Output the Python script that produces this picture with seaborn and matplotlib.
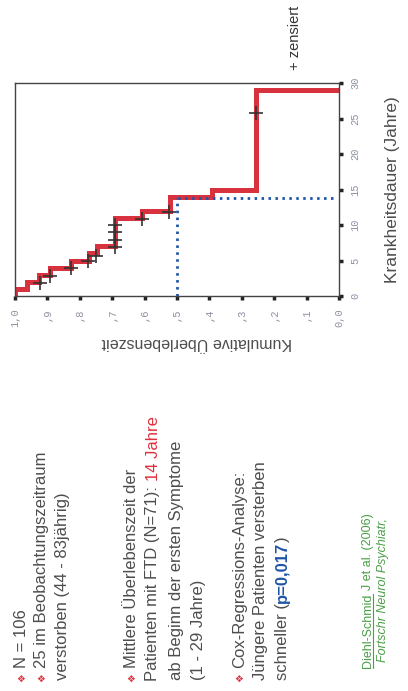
import matplotlib
matplotlib.use("Agg")
import matplotlib.pyplot as plt
import seaborn as sns
from matplotlib.lines import Line2D

W, H = 408, 691

# Kaplan-Meier curve: years since first symptoms / cumulative survival
event_years = [0, 1, 2, 3, 4, 5, 6, 7, 11, 12, 14, 15, 29]
survival = [1.0, 0.964, 0.925, 0.892, 0.828, 0.771, 0.748, 0.690, 0.609, 0.522, 0.393, 0.257, 0.0]

# censored cases (+)
censored_years = [1.8, 2.85, 3.9, 5.0, 5.7, 6.9, 7.9, 9.0, 10.0, 10.9, 11.85, 25.8]
censored_survival = [0.923, 0.892, 0.828, 0.774, 0.750, 0.690, 0.690, 0.690, 0.690, 0.609, 0.524, 0.257]

# median survival guide
median_survival = 0.5
median_years = 13.8
guide_end = 0.02

surv_ticks = [1.0, 0.9, 0.8, 0.7, 0.6, 0.5, 0.4, 0.3, 0.2, 0.1, 0.0]
surv_ticklabels = ["1,0", ",9", ",8", ",7", ",6", ",5", ",4", ",3", ",2", ",1", "0,0"]
year_ticks = [0, 5, 10, 15, 20, 25, 30]
year_ticklabels = ["0", "5", "10", "15", "20", "25", "30"]

TXT = "#4d4d4d"
RED = "#e0313d"
BLUE = "#1f55a8"
GREEN = "#4a9e46"

sns.set_theme(style="white")
plt.rcParams["font.family"] = ["Liberation Sans", "DejaVu Sans"]

fig = plt.figure(figsize=(W / 100, H / 100), dpi=100)
fig.patch.set_facecolor("white")

# the whole slide is turned 90 degrees: survival runs right-to-left, years bottom-to-top
ax = fig.add_axes([15 / W, 1 - 296 / H, (339 - 15) / W, (296 - 83) / H])
sns.lineplot(x=survival, y=event_years, sort=False, estimator=None,
             drawstyle="steps-pre", color="#d8323e", linewidth=3.6, ax=ax,
             solid_joinstyle="miter")
sns.scatterplot(x=censored_survival, y=censored_years, marker="+", s=90,
                color="#333333", linewidth=1.2, ax=ax, zorder=4)
ax.vlines(median_survival, 0, median_years, color=BLUE, linewidth=2,
          linestyles=(0, (0.9, 1.6)), zorder=3)
ax.hlines(median_years, guide_end, median_survival, color=BLUE, linewidth=2,
          linestyles=(0, (0.9, 1.6)), zorder=3)

ax.set_xlim(1.0, 0.0)
ax.set_ylim(0, 30)
ax.set_xticks(surv_ticks)
ax.set_xticklabels(surv_ticklabels)
ax.set_yticks(year_ticks)
ax.set_yticklabels(year_ticklabels)
ax.yaxis.tick_right()
for sp in ax.spines.values():
    sp.set_color("#444444")
    sp.set_linewidth(1.0)
ax.tick_params(axis="x", bottom=True, direction="out", length=3, width=2.5,
               color="#222222", pad=6, labelrotation=90, labelsize=7.5,
               labelcolor="#8c90a0")
ax.tick_params(axis="y", right=True, left=False, direction="out", length=3,
               width=2.5, color="#222222", pad=5, labelrotation=90,
               labelsize=7.5, labelcolor="#8c90a0")
for lab in ax.get_xticklabels() + ax.get_yticklabels():
    lab.set_family("Liberation Mono")
for lab in ax.get_yticklabels():
    lab.set_va("center")

fig.text(197 / W, 1 - 343 / H, "Kumulative Überlebenszeit", rotation=180,
         ha="center", va="center", fontsize=11.5, color=TXT)
fig.text(393 / W, 1 - 190 / H, "Krankheitsdauer (Jahre)", rotation=90,
         ha="center", va="center", fontsize=12.5, color=TXT)
fig.text(295 / W, 1 - 70 / H, "+ zensiert", rotation=90, ha="center",
         va="bottom", fontsize=10.5, color="#333333")

renderer = fig.canvas.get_renderer()


def column(x, y_start, pieces, size=12, style="normal"):
    # draws one rotated line; pieces = (text, color, weight, gap before)
    y = H - y_start
    boxes = []
    for text, color, weight, gap in pieces:
        y += gap * size * 100 / 72
        t = fig.text(x / W, y / H, text, rotation=90, ha="center", va="bottom",
                     color=color, fontsize=size, fontweight=weight, style=style)
        bb = t.get_window_extent(renderer)
        boxes.append(bb)
        y = bb.y1
    return boxes


def bullet(x, y):
    fig.text(x / W, 1 - y / H, "\u2756", rotation=90, ha="center", va="center",
             fontsize=7, color=RED, family="DejaVu Sans")


lines = [
    (22, 668, True, [("N = 106", TXT, "normal", 0)]),
    (42, 668, True, [("25 im Beobachtungszeitraum", TXT, "normal", 0)]),
    (63, 680, False, [("verstorben (44 - 83jährig)", TXT, "normal", 0)]),
    (132, 668, True, [("Mittlere Überlebenszeit der", TXT, "normal", 0)]),
    (153, 681, False, [("Patienten mit FTD (N=71):", TXT, "normal", 0),
                       ("14 Jahre", RED, "normal", 0.28)]),
    (176, 680, False, [("ab Beginn der ersten Symptome", TXT, "normal", 0)]),
    (198, 680, False, [("(1 - 29 Jahre)", TXT, "normal", 0)]),
    (240, 668, True, [("Cox-Regressions-Analyse:", TXT, "normal", 0)]),
    (261, 680, False, [("Jüngere Patienten versterben", TXT, "normal", 0)]),
    (282, 680, False, [("schneller (", TXT, "normal", 0),
                       ("p=0,017", BLUE, "bold", 0),
                       (")", TXT, "normal", 0)]),
]
for x, y0, has_bullet, pieces in lines:
    if has_bullet:
        bullet(x, 678)
    column(x, y0, pieces)

# reference
bb = column(368, 668, [("Diehl-Schmid", GREEN, "normal", 0),
                       ("J et al. (2006)", GREEN, "normal", 0.28)], size=9)[0]
fig.add_artist(Line2D([(bb.x1 - 1) / W, (bb.x1 - 1) / W], [bb.y0 / H, bb.y1 / H],
                      color=GREEN, linewidth=0.8))
column(383, 662, [("Fortschr Neurol Psychiatr,", GREEN, "normal", 0)], size=9,
       style="italic")

fig.savefig("out.png", dpi=100, facecolor="white")
